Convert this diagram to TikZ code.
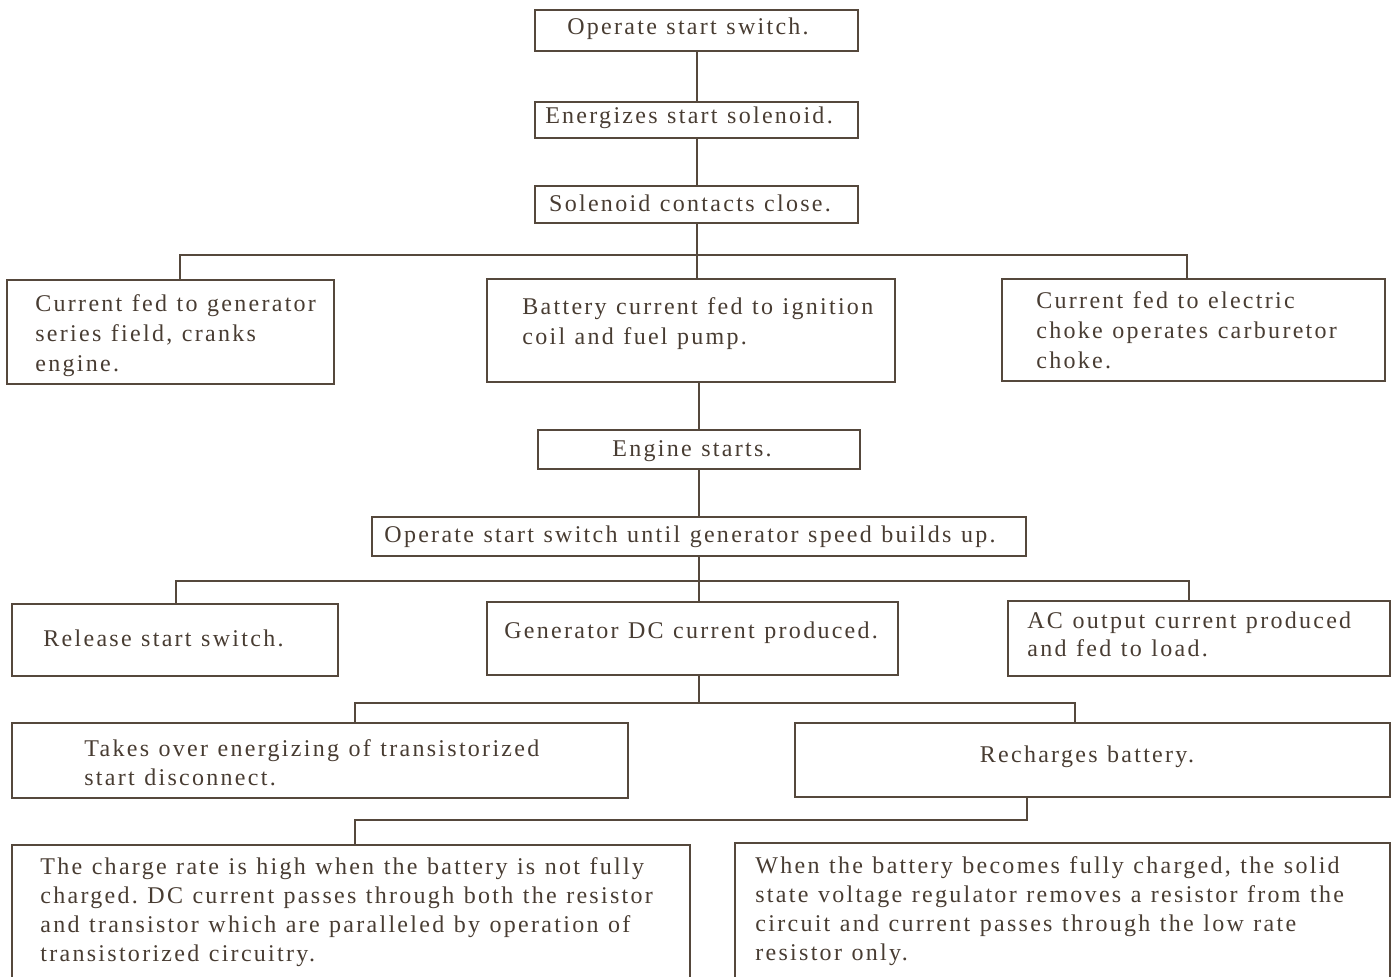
\documentclass[tikz,border=0pt]{standalone}
\usepackage{fontspec}
\setmainfont{Liberation Serif}[LetterSpace=9.5,WordSpace=1.15]
\definecolor{ink}{RGB}{72,60,50}
\definecolor{rule}{RGB}{85,72,60}
\tikzset{
  box/.style={draw=rule, line width=1pt, rectangle, inner sep=0pt},
  txt/.style={text=ink, font=\fontsize{12}{15}\selectfont, inner sep=0pt, align=left},
  txtL/.style={txt, anchor=west},
  link/.style={draw=rule, line width=1pt},
}
\frenchspacing
\begin{document}
\begin{tikzpicture}[x=0.5pt,y=-0.5pt]
\useasboundingbox (0,0) rectangle (1394,976);
\clip (0,0) rectangle (1394,976);
% boxes
\node[box, minimum width=161.5pt, minimum height=20.5pt] (op)  at (696.5,30.5) {};
\node[box, minimum width=161.5pt, minimum height=18pt]   (en)  at (696.5,120) {};
\node[box, minimum width=161.5pt, minimum height=18.5pt] (sol) at (696.5,204.5) {};
\node[box, minimum width=163.5pt, minimum height=52pt]   (L1)  at (170.5,332) {};
\node[box, minimum width=204pt,   minimum height=51.5pt] (M1)  at (691,330.5) {};
\node[box, minimum width=191.5pt, minimum height=51pt]   (R1)  at (1193.5,330) {};
\node[box, minimum width=161pt,   minimum height=19.5pt] (eng) at (699,449.5) {};
\node[box, minimum width=327pt,   minimum height=19.5pt] (opu) at (699,536.5) {};
\node[box, minimum width=163pt,   minimum height=36pt]   (rel) at (175,640) {};
\node[box, minimum width=205.5pt, minimum height=36.5pt] (gen) at (692.5,638.5) {};
\node[box, minimum width=191pt,   minimum height=37.5pt] (ac)  at (1199,638.5) {};
\node[box, minimum width=308pt,   minimum height=37.5pt] (tak) at (320,760.5) {};
\node[box, minimum width=297.5pt, minimum height=37pt]   (rec) at (1092.5,760) {};
\node[box, minimum width=339pt,   minimum height=82.5pt] (chg) at (351,927.5) {};
\node[box, minimum width=327.5pt, minimum height=83.5pt] (full) at (1062.5,926.5) {};
% texts
\node[txt] (top)  at (688,29) {Operate start switch.};
\node[txt] (ten)  at (689,118) {Energizes start solenoid.};
\node[txt] (tsol) at (690,203) {Solenoid contacts close.};
\node[txtL] (tL1) at (35,336) {Current fed to generator\\series field, cranks\\engine.};
\node[txtL] (tM1) at (522,324) {Battery current fed to ignition\\coil and fuel pump.};
\node[txtL] (tR1) at (1036,330) {Current fed to electric\\choke operates carburetor\\choke.};
\node[txt] (teng) at (692,451) {Engine starts.};
\node[txt] (topu) at (690,537) {Operate start switch until generator speed builds up.};
\node[txtL] (trel) at (43,638) {Release start switch.};
\node[txtL] (tgen) at (504,633) {Generator DC current produced.};
\node[txtL, font=\fontsize{12}{14}\selectfont] (tac) at (1027,634) {AC output current produced\\and fed to load.};
\node[txtL, font=\fontsize{12}{14.5}\selectfont] (ttak) at (84,763) {Takes over energizing of transistorized\\start disconnect.};
\node[txt] (trec) at (1087,757) {Recharges battery.};
\node[txtL, font=\fontsize{12}{14.5}\selectfont] (tchg) at (40,912) {The charge rate is high when the battery is not fully\\charged. DC current passes through both the resistor\\and transistor which are paralleled by operation of\\transistorized circuitry.};
\node[txtL, font=\fontsize{12}{14.5}\selectfont] (tfull) at (755,911) {When the battery becomes fully charged, the solid\\state voltage regulator removes a resistor from the\\circuit and current passes through the low rate\\resistor only.};
% connectors
\coordinate (b1L) at (180,255);
\coordinate (b1R) at (1187,255);
\coordinate (b2L) at (176,581);
\coordinate (b2R) at (1189,581);
\coordinate (b3L) at (355,703);
\coordinate (b3R) at (1075,703);
\coordinate (b4L) at (355,820);
\coordinate (b4R) at (1027,820);
\draw[link] (op.south) -- (en.north);
\draw[link] (en.south) -- (sol.north);
\draw[link] (sol.south) -- (sol.south |- M1.north);
\draw[link] (b1L |- L1.north) -- (b1L) -- (b1R) -- (b1R |- R1.north);
\draw[link] (eng.north |- M1.south) -- (eng.north);
\draw[link] (eng.south) -- (opu.north);
\draw[link] (opu.south) -- (opu.south |- gen.north);
\draw[link] (b2L |- rel.north) -- (b2L) -- (b2R) -- (b2R |- ac.north);
\draw[link] (opu.south |- gen.south) -- (opu.south |- b3L);
\draw[link] (b3L |- tak.north) -- (b3L) -- (b3R) -- (b3R |- rec.north);
\draw[link] (b4R |- rec.south) -- (b4R) -- (b4L) -- (b4L |- chg.north);
\end{tikzpicture}
\end{document}
